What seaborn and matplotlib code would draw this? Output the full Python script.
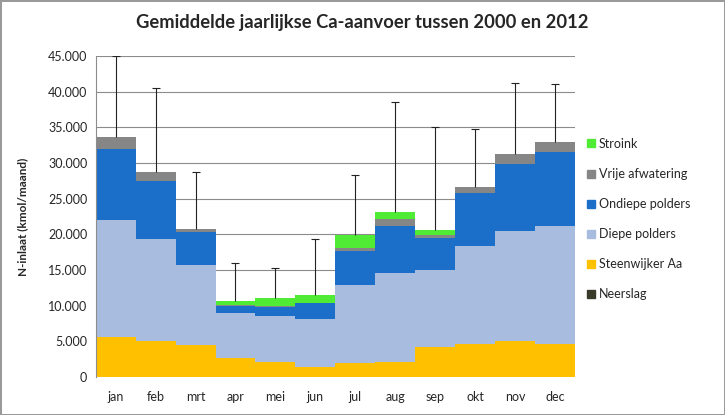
import numpy as np
import pandas as pd
import matplotlib
matplotlib.use("Agg")
import matplotlib.pyplot as plt
from matplotlib.ticker import FuncFormatter, MultipleLocator
from matplotlib.lines import Line2D
import seaborn as sns

maanden = ["jan", "feb", "mrt", "apr", "mei", "jun", "jul", "aug", "sep", "okt", "nov", "dec"]
neerslag = [0, 0, 0, 0, 0, 0, 0, 0, 0, 0, 0, 0]
steenwijker_aa = [5600, 5000, 4400, 2700, 2100, 1400, 1900, 2100, 4200, 4600, 5000, 4600]
diepe_polders = [16400, 14400, 11300, 6300, 6400, 6700, 11000, 12500, 10800, 13800, 15500, 16500]
ondiepe_polders = [10000, 8000, 4600, 1000, 1300, 2200, 4800, 6600, 4500, 7400, 9300, 10400]
vrije_afwatering = [1600, 1400, 400, 100, 200, 100, 400, 1000, 400, 800, 1400, 1500]
stroink = [0, 0, 0, 600, 1000, 1100, 1800, 900, 700, 0, 0, 0]
fout_boven = [11400, 11700, 8100, 5300, 4200, 7800, 8400, 15400, 14400, 8200, 10000, 8100]

series = ["Neerslag", "Steenwijker Aa", "Diepe polders", "Ondiepe polders", "Vrije afwatering", "Stroink"]
kleuren = {
    "Neerslag": "#3b3b2b",
    "Steenwijker Aa": "#ffc000",
    "Diepe polders": "#a7bcdf",
    "Ondiepe polders": "#1c6fc8",
    "Vrije afwatering": "#868686",
    "Stroink": "#50ec35",
}

df = pd.DataFrame({
    "maand": maanden,
    "Neerslag": neerslag,
    "Steenwijker Aa": steenwijker_aa,
    "Diepe polders": diepe_polders,
    "Ondiepe polders": ondiepe_polders,
    "Vrije afwatering": vrije_afwatering,
    "Stroink": stroink,
})
cum = df[series].cumsum(axis=1)
cum["maand"] = df["maand"]
totaal = cum["Stroink"].values

sns.set_style("white")
plt.rcParams["font.family"] = ["Lato", "DejaVu Sans"]

fig = plt.figure(figsize=(7.25, 4.15), dpi=100)
fig.patch.set_edgecolor("#9a9a9a")
fig.patch.set_linewidth(2)
ax = fig.add_axes([0.132, 0.092, 0.661, 0.773])

ax.yaxis.grid(True, color="#8c8c8c", linewidth=0.8)
ax.set_axisbelow(True)

# stapelen: bovenste cumulatief eerst tekenen
for s in reversed(series):
    sns.barplot(data=cum, x="maand", y=s, color=kleuren[s], width=1.0,
                saturation=1, linewidth=0, ax=ax, zorder=2)

eb = ax.errorbar(np.arange(len(maanden)), totaal, yerr=[np.zeros(len(maanden)), fout_boven],
                 fmt="none", ecolor="#222222", elinewidth=0.8, capsize=3, capthick=0.8, zorder=3)
# alleen bovenste kapjes
eb[1][0].set_visible(False)

ax.set_ylim(0, 45000)
ax.set_xlim(-0.5, 11.5)
ax.yaxis.set_major_locator(MultipleLocator(5000))
ax.yaxis.set_major_formatter(FuncFormatter(lambda v, p: f"{v:,.0f}".replace(",", ".")))
ax.set_xlabel("")
ax.set_ylabel("N-inlaat (kmol/maand)", fontsize=8.5, fontweight="bold", labelpad=14)
ax.tick_params(axis="both", labelsize=9, length=0, pad=6)
ax.tick_params(axis="x", pad=10)
for sp in ["top", "right", "bottom"]:
    ax.spines[sp].set_visible(False)
ax.spines["left"].set_color("#8c8c8c")
ax.spines["left"].set_linewidth(0.8)

fig.text(0.5, 0.945, "Gemiddelde jaarlijkse Ca-aanvoer tussen 2000 en 2012",
         ha="center", va="center", fontsize=13.2, fontweight="bold")

volgorde = ["Stroink", "Vrije afwatering", "Ondiepe polders", "Diepe polders", "Steenwijker Aa", "Neerslag"]
handles = [Line2D([0], [0], marker="s", linestyle="", markersize=6,
                  markerfacecolor=kleuren[n], markeredgecolor=kleuren[n]) for n in volgorde]
fig.legend(handles, volgorde, loc="upper left", bbox_to_anchor=(0.8, 0.68), frameon=False,
           fontsize=9, labelspacing=1.45, handletextpad=0.1, handlelength=1.0,
           borderaxespad=0)

fig.savefig("out.png", dpi=100)
